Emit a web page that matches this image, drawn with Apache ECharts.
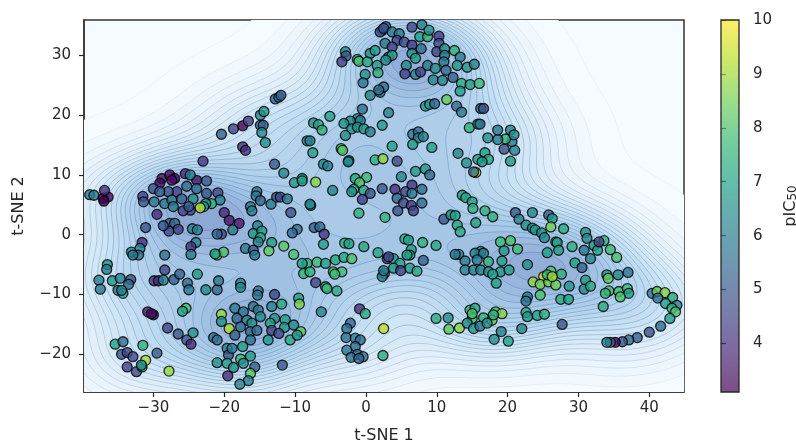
<!DOCTYPE html>
<html><head><meta charset="utf-8">
<style>html,body{margin:0;padding:0;background:#fff}#c{width:796px;height:441px}</style>
<script src="https://cdn.jsdelivr.net/npm/echarts@6/dist/echarts.min.js"></script>
</head><body><div id="c"></div>
<script>
const xTicks=[-30,-20,-10,0,10,20,30,40];
const yTicks=[-20,-10,0,10,20,30];
const cbTicks=[4,5,6,7,8,9,10];
const xName='t-SNE 1', yName='t-SNE 2', cbName='pIC{s|50}';
const viridis=['#440154','#482878','#3e4989','#31688e','#26828e','#1f9e89','#35b779','#6ece58','#b5de2b','#fde725'];
const upperLeft=[[-23,12.3,4.2],[-20.4,16.8,5.2],[-18.7,17.7,4.5],[-17.4,18.2,3.1],[-16.6,19,4.4],[-14.9,20,6.2],[-14.4,20.6,6.8],[-14.9,18.3,5.5],[-14.5,18.3,5.3],[-14.7,17.1,6.3],[-14.2,15.4,6.4],[-17.4,14.7,4.2],[-17,14.1,4],[-12.8,22.7,5.3],[-12.3,23,5.6],[-12,23.3,5.2],[-12.9,11.8,5],[-11.6,10.3,6.2],[-10.1,8.7,6.8],[-9,9.4,6.7],[-9,9,7],[-7.1,8.8,8.8],[-7.8,4.9,6.3],[-4.7,7.4,6.2],[-7.4,18.7,6.4],[-6.7,18.4,7.2],[-6.2,17.5,7.5],[-5.1,19.8,7],[-8.3,15.7,6.3],[-7.9,15.7,6],[-7.5,13.7,7],[-6,11.8,6.2],[-5.4,11.5,6],[-3.5,14.4,7.8],[-3.3,14.1,8.2],[-2.4,12.4,6.8]];
const topLeft=[[-2.9,30.6,6.2],[-2.8,29.9,5],[-3.4,28.9,4.4],[-1.2,29.3,7.5],[-1,29,8],[0.6,30.3,6.5],[1.3,30.8,7],[0.2,28.9,7.2],[1.6,28.3,7],[-0.1,26.8,6.5],[1.7,27.1,7.5],[-0.4,25.4,5.8],[0.6,23.3,6.2],[2,23.8,5.5],[2.5,24.7,5.5],[1.8,24.2,5.6],[2.3,34.2,5],[2,33.9,4.8],[2.8,34.8,5],[3.2,29.7,6]];
const middleUpper=[[-0.5,21,5.5],[-1.2,19.4,6.3],[-2.2,19,6.4],[-3.1,18.6,6.7],[-0.8,19.1,6],[-2,17.7,6.5],[-2.9,16.6,6.4],[-1.2,18,6.6],[-0.3,17.7,6.8],[0.6,17.2,6],[2.3,18.3,6.8],[3.2,20.4,6.2],[1.3,12.5,7.5],[2.4,12.7,8.8],[-2.5,12.2,6.2],[4.4,12.3,4.6],[-1.5,9.4,7.2],[0.1,9.6,7.8],[-0.9,8.7,8],[-1.7,7.6,7.3],[-0.3,7.4,7.2],[-2,7.2,6.5],[0.6,6.9,4.8],[2.3,7.7,5],[-0.5,5.9,4.3],[-1,3.6,7.5],[2.7,2.9,7.5]];
const purpleCluster=[[-39,6.7,5.8],[-38.4,6.6,6],[-37.1,6.1,3.2],[-36.4,6.3,3.3],[-36.9,7.4,4],[-37,5.6,3.1],[-28.8,9.4,3.3],[-29.1,8.6,3.3],[-27.7,10,3.2],[-27,9.4,3.1],[-27.4,9.1,3.4],[-25.5,10.2,3.8],[-23.9,9.1,3.5],[-22.5,9,5],[-24.8,10,6],[-25.3,8.1,5.5],[-23.9,7.7,5.5],[-26.7,7.2,4.5],[-27.9,7.2,5],[-30,7.7,4.8],[-29.1,7.2,5],[-31.5,6.4,4.4],[-31.4,5.5,5],[-29.9,5.5,5.8],[-28.4,5.2,5.8],[-27.4,5.8,5.8],[-27.2,4.7,6],[-26,6,5.3],[-24.4,6,6.5],[-22.5,6.9,4.9],[-20.9,7,4.6],[-20.6,5.8,6.2],[-21.8,5.2,7.5],[-22.6,5.2,6.6],[-22.9,4.7,6.9],[-23.4,4.5,9.3],[-24.8,4.1,4.6],[-25.8,4,4.5],[-25,4.7,5],[-20,3.7,3.9],[-19.3,2.4,3.5],[-17.9,1.9,3.6],[-18.8,0.8,5.9],[-20.4,0.1,4.7],[-21,0.1,5.2],[-29.5,3.4,3.9],[-31.1,1.2,4.9],[-27.7,1.9,5.2],[-27,1.9,5.4],[-27.8,0.6,4.6],[-26.5,0.9,4.4],[-28.6,1.5,5],[-24.5,1,6.1],[-23.8,0.8,6],[-24,-1.3,6.2],[-24.7,-2,4],[-24.7,-3.3,6]];
const leftMiddle=[[-31.6,-1.3,3.9],[-33.1,-2.9,6.4],[-31.9,-2.3,6.3],[-32.1,-3.4,5.5],[-32.9,-3.4,5.8],[-28.4,-3.4,5.7],[-15.4,7.2,5.6],[-15.5,6.5,6],[-14.9,5.7,5.3],[-16.3,4.7,5.8],[-16.1,4,6.1],[-13.4,5.1,6],[-12.6,6.3,4.8],[-12.1,6.3,4.6],[-11.1,6,5.7],[-10.6,3.7,4.8],[-9.7,0.9,5.6],[-10.4,0.3,5.4],[-7.9,5.1,6.3],[-7.3,1.2,5.2],[-6.5,1.3,5.5],[-5.9,0.1,4.2],[-6,-1.6,7],[-15.3,1.5,6.2],[-15.9,0.2,6.8],[-14.7,0.6,7],[-14.9,-0.5,7.5],[-15.2,-1.2,6],[-13.3,-1.3,7],[-11.6,-1.9,8.2],[-13.7,-2.7,8.3],[-10.2,-3.3,8],[-17,-2.3,6],[-15.9,-2.6,5.2],[-15.7,-3.4,5.7],[-21,-3.4,8.4],[-20.1,-2.9,8],[-21.3,-3.2,7],[-3,-1.4,7.5],[-2.4,-1.5,7],[-0.3,-2,7.2],[1.7,-3,7.2]];
const lowerLeft=[[-36.5,-5,6.5],[-36.6,-5.8,6],[-37.7,-7.6,6],[-37.5,-9.1,5.8],[-35.8,-7.7,6.8],[-34.7,-7.3,6],[-33.2,-7.5,4.8],[-33.5,-8.3,5.5],[-35,-9.3,6],[-34.3,-9.8,6.8],[-34.5,-9.3,6.2],[-28.4,-5.9,4.5],[-29.9,-7.7,4.2],[-29.3,-7.7,3.9],[-28.6,-7.6,6],[-27.1,-7.5,5.2],[-26.3,-6.6,5.2],[-23.8,-6.6,6.8],[-25.2,-8.1,5.4],[-25,-9.2,5.8],[-22.6,-9.2,6.3],[-21,-9.2,5.4],[-20.8,-7.7,5.8],[-17.7,-8.1,6],[-17.7,-8.8,6.2],[-15.2,-9.4,5.7],[-15.3,-10.1,5.8],[-12.9,-10,4.6],[-30.8,-12.9,3.6],[-30,-13.4,3.2],[-30.3,-13.2,3.4],[-28,-15.6,4.5],[-26.5,-16.6,5],[-25.3,-17.6,4.9],[-24.7,-18.3,3.9],[-24.4,-16.4,6.5],[-25.4,-12.3,7.9],[-25.9,-12.8,7.2],[-21.5,-17.2,5.5],[-21,-17.6,5.7],[-20.4,-13.3,8.9],[-20.4,-14.5,6.6],[-19.3,-15.7,9.2]];
const denseBottom=[[-18.5,-12.3,6],[-17.3,-12.9,5.8],[-15.9,-12,5.6],[-15.2,-12.6,5.8],[-18.2,-14,5.3],[-16.8,-14.3,6],[-16.1,-14.8,6.5],[-14.9,-13.7,6.5],[-17.7,-15.4,5.5],[-16.3,-16.2,5.5],[-15.4,-16,5.5],[-18.5,-16.8,5.2],[-16.3,-17.6,5.7],[-13.3,-12,6.2],[-11.9,-11.6,7.2],[-12.9,-14,6.5],[-11.4,-14.2,7],[-13.5,-14.8,7],[-11.5,-15.5,6.8],[-13.3,-16,4.6],[-12.3,-16.5,4.6],[-10.2,-15.1,6.2],[-9.2,-16.2,8.2],[-10.7,-17.6,7.2],[-9.7,-16.8,6.5],[-13.8,-17.6,6.8],[-9.5,-10.6,6.8],[-9.4,-11.6,8.6],[-6.3,-12.9,6.2],[-19.6,-19,6],[-19.4,-20.1,4.8],[-17.4,-18.7,7],[-18.9,-19,6],[-16.3,-20.3,6.8],[-17.7,-20.8,7.6],[-21,-21.4,6.5],[-19.6,-21.5,7],[-18.7,-22.2,6.5],[-17.3,-21.5,6.5],[-15.7,-22.1,5.2],[-16.3,-23.2,8.2],[-16.6,-24.4,6],[-17.8,-25,6.2],[-19.5,-23.6,4],[-11.8,-21.8,5]];
const farBottomLeft=[[-27.8,-22.8,8.9],[-29.5,-19.8,5],[-35.4,-18.3,7],[-34.3,-17.9,5.5],[-31.5,-18.5,7.5],[-34.5,-20,4.8],[-33.7,-19.7,4.5],[-32.9,-20.4,4.6],[-33.7,-22.1,4.4],[-32.4,-22.9,4.6],[-31.6,-22.1,7],[-31.1,-21,9],[-31.7,-21.8,6.5]];
const centreBottom=[[-2.2,-14.8,5.3],[-2.7,-15.7,5.6],[-2.8,-17.2,5.6],[-1.5,-17.3,5.8],[-0.8,-17.6,5.5],[-1.5,-18.7,5.5],[-2.7,-19.3,5.8],[-1.2,-20,5.5],[-0.4,-20.4,5.6],[-2.1,-20.5,5.6],[-1,-20.7,5.3],[2.4,-20.2,7.3],[-0.9,-12.4,4.1],[-0.1,-13.2,7.2],[2.5,-15.7,9.3],[-8.3,-4.8,7.5],[-9,-4.8,7],[-6.9,-4.6,7.8],[-5.7,-4.8,7],[-8.8,-6.5,7.5],[-7.9,-6.2,7.5],[-7.1,-8,4.5],[-5.7,-8.7,7.5],[-5.5,-9,7.8],[-4.1,-9.4,7.2],[-4.3,-4.2,7.2],[-3.1,-3.8,7.2],[-2,-4,8],[-4.6,-6.2,8],[-3.4,-6.2,7.8],[-4.4,-6.6,7.8],[3,-4,4.6],[2.6,-6.5,6.5],[2.3,-7,6]];
const centralGroup=[[5,9.7,6.2],[7,10.6,6.8],[8.4,11,6.8],[9,10,5.5],[4.1,7.6,4],[5.6,7.2,4.6],[6.5,8.3,4.1],[7.9,7.6,5.5],[4.4,6.1,5.3],[5.3,5.3,4.6],[6.5,6.9,5.8],[6.4,4.9,4.2],[7.9,5.3,5.5],[4.5,4,4.8],[6.7,4,4.5],[15.5,10.4,9.9],[15.2,10.5,5.5],[13.6,6.6,7],[14.1,6.2,7.2],[15,5.5,7],[15.1,4.4,7.5]];
const upperRight=[[13,13.6,6.2],[14.2,12,6.5],[15.8,12.6,7],[16.8,13.7,7],[17.3,12.6,7.2],[16.4,12.2,6.8],[20.4,12.3,6.8],[19.5,14.3,4.9],[21,14.1,6.2],[20.6,15.6,6],[19.7,16,7.5],[18.6,15.9,6],[17.2,16.2,6.5],[18.6,17.5,5.8],[20.4,17.5,6.2],[20.9,16.7,6.5],[14.6,17.9,7.5],[15.8,18.5,7],[16.1,18.5,5.5],[16.2,21.1,5.5],[16.6,21.1,4.8],[12.8,21.5,5.5],[13.5,20.5,5.8],[11.4,22.6,8.3],[13.5,25.3,7.4],[14.7,25.1,7],[16,25.3,7.8],[13.3,24,7],[8.4,21.5,6.6],[9,21.8,7],[9.7,21.9,5.4],[6.6,16.8,5.8],[7.4,17.2,5.4],[7.4,16.2,6.3],[8.1,16.4,6],[6.6,15.1,6.8],[9.3,14.6,7],[3.7,14.8,7]];
const topCluster=[[2.5,34.5,5],[3.7,33.9,5.8],[4.7,33.6,6],[6.5,34.7,4.6],[7.9,35.1,6],[7.6,33.1,7],[8.7,33.1,7.5],[8.9,34.2,6.5],[10.3,33.2,4.3],[4.4,32.5,4.5],[2.7,32,5.8],[5.4,32.2,4.8],[6.5,31.7,4.3],[7.8,31.1,5.5],[3.7,31.4,4.5],[3.7,30,7],[2.8,29.2,6.5],[6.5,30.3,6.5],[7,29.5,7],[5.7,28.3,6.3],[5.5,26.9,4.5],[7,26.8,6.3],[7.7,27.2,4.5],[10.3,32,4.6],[10,30.6,4.5],[11.1,31.1,6.5],[11.1,30,6],[12.5,30.8,7.5],[11,28.9,5.8],[13.3,29.7,6],[12.9,28.3,6.8],[14.3,28,6.8],[15.3,28.5,6.2],[8.7,28.3,6],[9.8,27.8,6.5],[11.3,27.5,5.5],[9.5,25.9,6.3],[10.8,25.8,6.2],[12.3,26.3,5.2]];
const centreRight=[[11,2.6,5],[12,3.3,6.5],[12.6,3.2,7],[12.9,1.6,7.2],[13.3,0.5,7.3],[15.5,2,7],[16.8,4,7.5],[17.9,3,7.5],[5.5,-0.7,7.5],[6,-0.9,7],[8,-1.3,7.5],[9.9,-1.8,7.2],[6.4,-2.5,6.8],[6.2,-3.4,7.2],[5.8,-3.4,7],[8.1,-4.3,5.2],[3.9,-4,6.8],[3.2,-3.7,4.5],[4.8,-4.8,7],[3.9,-5.6,6.8],[6.2,-5.6,7],[7.2,-6.1,7.2],[4.9,-6,4.5],[2.5,-6,6]];
const rightBand=[[21.1,3.7,5],[21.6,2.6,6],[23.5,3.7,6.2],[22.6,1.6,6.5],[23.5,1.1,6.5],[25.8,3.3,5],[26.3,2.7,6.8],[26.1,1.3,8.5],[27.9,1,7.3],[23.9,0.8,6.8],[24.8,0.3,6.5],[25.2,-0.5,6.5],[26.8,-1.2,7.5],[27,-1.3,7],[27.2,-2.6,7],[25.6,-3,7],[29.1,-2,7.5],[31,0.4,6.5],[31.2,-0.6,6.3],[30.8,-2.6,6],[32.2,-1.8,7],[32.7,-2.6,7],[33.6,-1,7.5],[32.9,-1.2,4.5],[34.5,-2.5,7.8],[35.4,-3.8,8],[29.5,-4.7,7],[30.5,-5.5,5.2],[31.7,-4,6.2]];
const rightCore=[[19,-1.2,7.8],[20.4,-1,8],[21.4,-2.4,7.8],[19.5,-2.7,6.8],[16.2,-2.8,6],[15.4,-3.1,6.2],[16.6,-3.1,6],[13.1,-3.3,6],[12.6,-3.3,5.8],[14,-4.4,6],[15.7,-4.2,6],[17.3,-4.5,7.5],[19.2,-4.4,7],[14,-5.9,6.2],[15.2,-5.9,6.2],[16.2,-5.9,6.2],[17.3,-6.2,6.5],[19,-6.2,6.8],[20.2,-5.9,7],[17.9,-6.6,7],[18.4,-8.1,7],[22.8,-5,6.5]];
const yellowGroup=[[25.1,-7,9.7],[23.6,-7.9,8.8],[24.6,-8.3,8.5],[25.8,-7.9,8.5],[26.1,-6.1,8],[26.8,-8.4,8.5],[27.6,-6.6,7.5],[25.6,-6.7,7.5],[26.3,-7,9],[24.6,-10.1,8],[28.7,-8.6,6.7],[27.5,-10.8,7.3],[28.6,-10.8,7],[22.8,-10.4,5.8],[22.6,-11.1,5.8],[22.6,-13,7.2],[22.8,-13.7,6.8],[24.2,-13.5,7],[25.2,-13.3,7.5],[27.7,-15,4.9],[22,-15.7,6.2]];
const lowerMiddle=[[14.7,-12.6,7.5],[15.4,-12.3,7.2],[15,-14,7.8],[16.6,-13.9,7.5],[18.3,-12.9,8],[19.2,-13.2,8.7],[17.8,-14.3,8.4],[18,-13.4,7.5],[9.9,-14,7.3],[11.6,-13.9,6.3],[11.7,-15.8,8.2],[13.2,-15.6,8.7],[14.3,-14.8,6.4],[15.2,-15.7,6.8],[16.1,-15.3,5.7],[17.1,-14.8,6.5],[19.1,-16.2,6],[18.1,-17.5,6.5],[20.1,-17.8,7],[15,-13.2,8]];
const farRight=[[34,-6.7,6.5],[34.2,-7.3,8.3],[35.6,-6.7,6.2],[37,-6.3,5.7],[31,-7.6,6.8],[30.8,-9.1,6.2],[31.7,-8.6,7.3],[34.3,-9.4,7.8],[33.8,-9.8,7.6],[35.7,-9.5,7.8],[36.9,-9,7.8],[37.1,-9.8,7],[35.9,-10.4,8],[33.5,-12,7.3]];
const arcTail=[[40.4,-9.8,5.8],[41.1,-9.5,8.3],[42.2,-9.7,8.7],[41.2,-10.6,5.5],[43.3,-10.5,7.2],[42.3,-11.5,7],[43.9,-11.8,6],[43.2,-12.3,7.5],[43.7,-12.9,8],[42.9,-14,7],[41.6,-15.3,5.5],[40,-16.3,4.8],[38.3,-17.2,5.2],[37.1,-17.6,5.5],[36.2,-17.9,5],[35.2,-18,3.1],[34.5,-18,5.5],[34,-18,6]];
const points=[].concat(upperLeft,topLeft,middleUpper,purpleCluster,leftMiddle,lowerLeft,denseBottom,farBottomLeft,centreBottom,centralGroup,upperRight,topCluster,centreRight,rightBand,rightCore,yellowGroup,lowerMiddle,farRight,arcTail);

const xMin=-39.8,xMax=44.9,yMin=-26.3,yMax=35.9,cbMin=3.1,cbMax=10;
// kernel density estimate of the points themselves
const NX=170,NY=110,BWX=6.4,BWY=5,NLEV=24;
const gx=[],gy=[];
for(let i=0;i<=NX;i++)gx.push(xMin+(xMax-xMin)*i/NX);
for(let j=0;j<=NY;j++)gy.push(yMin+(yMax-yMin)*j/NY);
const dens=[];
let maxD=0;
for(let j=0;j<=NY;j++){const r=new Float64Array(NX+1);
 for(const p of points){const dy=(gy[j]-p[1])/BWY,ey=Math.exp(-.5*dy*dy);if(ey<1e-9)continue;
  for(let i=0;i<=NX;i++){const dx=(gx[i]-p[0])/BWX;r[i]+=ey*Math.exp(-.5*dx*dx);}}
 dens.push(r);for(let i=0;i<=NX;i++)if(r[i]>maxD)maxD=r[i];}
const levelVals=[];
for(let l=0;l<NLEV;l++)levelVals.push(maxD*(0.012+0.98*l/NLEV));
const ramp=[[246,251,255],[228,240,250],[207,228,245],[184,213,237],[164,197,229],[142,168,212]];
function levelColor(l){const t=l/(levelVals.length-1)*(ramp.length-1),a=Math.min(ramp.length-2,Math.floor(t)),f=t-a;
 const c=ramp[a].map((v,i)=>Math.round(v+(ramp[a+1][i]-v)*f));return 'rgb('+c.join(',')+')';}
const pathCache={};
function buildPaths(l,px,py){
 if(pathCache[l])return pathCache[l];
 const L=levelVals[l];let fill='',line='';
 const f=n=>n.toFixed(1);
 for(let j=0;j<NY;j++){let run=-1;
  for(let i=0;i<=NX;i++){
   const inside=i<NX&&dens[j][i]>=L&&dens[j][i+1]>=L&&dens[j+1][i]>=L&&dens[j+1][i+1]>=L;
   if(inside){if(run<0)run=i;continue;}
   if(run>=0){fill+='M'+f(px(run))+' '+f(py(j))+'L'+f(px(i))+' '+f(py(j))+'L'+f(px(i))+' '+f(py(j+1))+'L'+f(px(run))+' '+f(py(j+1))+'Z';run=-1;}
   if(i===NX)continue;
   const cs=[[i,j],[i+1,j],[i+1,j+1],[i,j+1]],poly=[],cross=[];
   for(let k=0;k<4;k++){const a=cs[k],b=cs[(k+1)%4],va=dens[a[1]][a[0]],vb=dens[b[1]][b[0]];
    if(va>=L)poly.push([px(a[0]),py(a[1])]);
    if((va>=L)!==(vb>=L)){const t=(L-va)/(vb-va),q=[px(a[0]+(b[0]-a[0])*t),py(a[1]+(b[1]-a[1])*t)];poly.push(q);cross.push(q);}}
   if(poly.length>=3){fill+='M'+poly.map(q=>f(q[0])+' '+f(q[1])).join('L')+'Z';}
   for(let k=0;k+1<cross.length;k+=2)line+='M'+f(cross[k][0])+' '+f(cross[k][1])+'L'+f(cross[k+1][0])+' '+f(cross[k+1][1]);
  }}
 return pathCache[l]={fill,line};
}
const minus=v=>String(v).replace('-','\u2212');
const font='"DejaVu Sans"';
const ink='#262626';
const cbStops=viridis.map((c,i)=>({offset:1-i/(viridis.length-1),color:c}));
const chart=echarts.init(document.getElementById('c'),null,{renderer:'canvas'});
const tickStyle={color:ink,width:1.2};
const axisCommon={axisLine:{show:true,onZero:false,lineStyle:{color:'#333',width:1.5}},splitLine:{show:false},
 axisLabel:{fontFamily:font,fontSize:15,color:ink},nameTextStyle:{fontFamily:font,fontSize:16,color:ink},nameLocation:'middle'};
chart.setOption({
 animation:false,backgroundColor:'#fff',
 grid:[{left:84,top:20,width:600,height:372,show:true,outerBoundsMode:'none',borderColor:'#333',borderWidth:1.5,backgroundColor:'rgb(246,251,255)'},
       {left:721,top:20,width:18,height:372,outerBoundsMode:'none'}],
 xAxis:[Object.assign({},axisCommon,{type:'value',min:xMin,max:xMax,name:xName,nameGap:36,
   axisTick:{length:5,lineStyle:tickStyle,customValues:xTicks},
   axisLabel:Object.assign({},axisCommon.axisLabel,{customValues:xTicks,formatter:minus,margin:9})}),
  {type:'value',gridIndex:1,min:0,max:1,show:false}],
 yAxis:[Object.assign({},axisCommon,{type:'value',min:yMin,max:yMax,name:yName,nameGap:57,
   axisTick:{length:5,lineStyle:tickStyle,customValues:yTicks},
   axisLabel:Object.assign({},axisCommon.axisLabel,{customValues:yTicks,formatter:minus,margin:13})}),
  Object.assign({},axisCommon,{type:'value',gridIndex:1,position:'right',min:cbMin,max:cbMax,name:cbName,nameGap:43,nameRotate:90,
   nameTextStyle:{fontFamily:font,fontSize:16,color:ink,rich:{s:{fontFamily:font,fontSize:12,color:ink,verticalAlign:'bottom',padding:[5,0,0,0]}}},
   axisLine:{show:false},
   axisTick:{length:5,lineStyle:tickStyle,customValues:cbTicks},
   axisLabel:Object.assign({},axisCommon.axisLabel,{customValues:cbTicks,margin:14})})],
 visualMap:{show:false,seriesIndex:1,dimension:2,min:cbMin,max:cbMax,inRange:{color:viridis}},
 tooltip:{show:false},
 series:[
  {type:'custom',coordinateSystem:'cartesian2d',xAxisIndex:0,yAxisIndex:0,silent:true,z:1,clip:true,
   encode:{x:0,y:1},data:levelVals.map((v,i)=>[0,0,i]),
   renderItem(params,api){
    const l=api.value(2),p0=api.coord([xMin,yMin]),p1=api.coord([xMax,yMax]);
    const px=i=>p0[0]+(p1[0]-p0[0])*i/NX,py=j=>p0[1]+(p1[1]-p0[1])*j/NY;
    const P=buildPaths(l,px,py);
    const ch=[{type:'path',shape:{pathData:P.fill||'M0 0'},style:{fill:levelColor(l),stroke:null}}];
    if(P.line)ch.push({type:'path',shape:{pathData:P.line},style:{fill:null,stroke:'rgba(50,110,170,'+(0.07+0.33*Math.min(1,l/10))+')',lineWidth:0.8}});
    return {type:'group',children:ch};
   }},
  {type:'scatter',xAxisIndex:0,yAxisIndex:0,data:points,symbol:'circle',symbolSize:10,z:3,silent:true,clip:false,
   encode:{x:0,y:1},itemStyle:{opacity:0.8,borderColor:'#000',borderWidth:1.3}},
  {type:'custom',coordinateSystem:'cartesian2d',xAxisIndex:1,yAxisIndex:1,silent:true,z:2,clip:false,
   encode:{x:0,y:1},data:[[0,cbMax]],
   renderItem(params,api){
    const a=api.coord([0,cbMax]),b=api.coord([1,cbMin]);
    return {type:'group',children:[
     {type:'rect',shape:{x:a[0],y:a[1],width:b[0]-a[0],height:b[1]-a[1]},
      style:{fill:new echarts.graphic.LinearGradient(0,0,0,1,cbStops),opacity:0.7}},
     {type:'rect',shape:{x:a[0],y:a[1],width:b[0]-a[0],height:b[1]-a[1]},style:{fill:null,stroke:'#262626',lineWidth:1.3}}]};
   }}
 ]
});
</script></body></html>
